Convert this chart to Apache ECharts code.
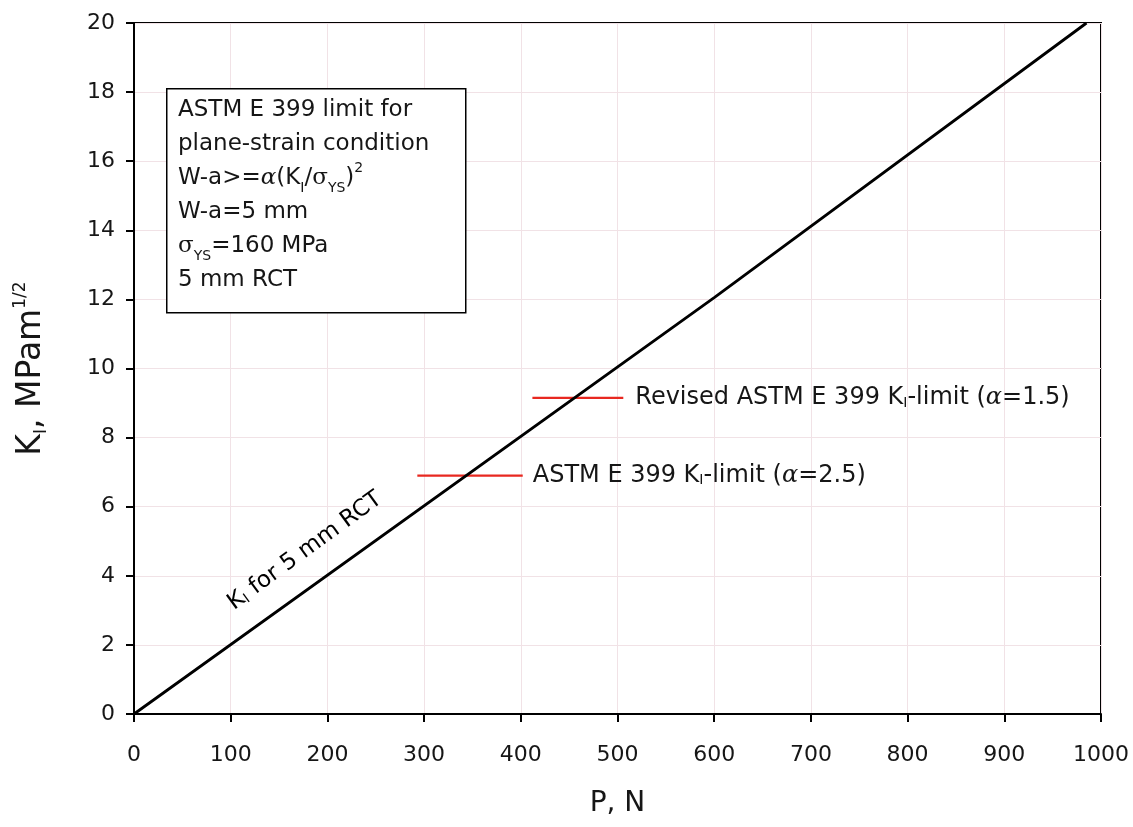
<!DOCTYPE html>
<html>
<head>
<meta charset="utf-8">
<script src="https://cdn.jsdelivr.net/npm/echarts@6/dist/echarts.min.js"></script>
<style>
  html, body { margin: 0; padding: 0; background: #fff; }
  #chart { width: 1133px; height: 827px; }
</style>
</head>
<body>
<div id="chart"></div>
<script>
// K_I versus load P for the 5 mm RCT specimen
const loadN = [0, 600, 985];
const kI = [0, 12.05, 20];

// ASTM E 399 plane-strain K_I limits (horizontal segments)
const limitAlpha25 = { p: [293, 402], k: 6.9 };
const limitAlpha15 = { p: [412, 506], k: 9.15 };

const xTicks = [0, 100, 200, 300, 400, 500, 600, 700, 800, 900, 1000];
const yTicks = [0, 2, 4, 6, 8, 10, 12, 14, 16, 18, 20];

const FONT = '"DejaVu Sans", "Liberation Sans", Arial, sans-serif';
const GREEK = '"DejaVu Serif", serif';
const TXT = '#161616';

const chart = echarts.init(document.getElementById('chart'), null, { renderer: 'canvas' });

const subStyle = { fontSize: 14, lineHeight: 14, verticalAlign: 'bottom', fontFamily: FONT, color: TXT };
const subGray = { fontSize: 14, lineHeight: 14, verticalAlign: 'bottom', fontFamily: FONT, color: '#777' };
const supStyle = { fontSize: 14, lineHeight: 14, verticalAlign: 'top', fontFamily: FONT, color: TXT };
const alphaStyle = { fontSize: 24, fontStyle: 'italic', fontFamily: GREEK, color: TXT };

function seg(lim) {
  return lim.p.map(p => [p, lim.k]);
}

const option = {
  backgroundColor: '#fff',
  animation: false,
  grid: {
    left: 134, right: 32, top: 23, bottom: 113,
    show: true, borderColor: '#000', borderWidth: 2
  },
  xAxis: {
    type: 'value', min: 0, max: 1000, interval: 100,
    name: 'P, N', nameLocation: 'middle', nameGap: 76,
    nameTextStyle: { fontSize: 28, fontFamily: FONT, color: TXT },
    axisLine: { show: true, lineStyle: { color: '#000', width: 2 } },
    axisTick: { show: true, inside: false, length: 8, lineStyle: { color: '#000', width: 2 } },
    axisLabel: { margin: 30, fontSize: 22, fontFamily: FONT, color: TXT,
      formatter: v => xTicks.includes(v) ? String(v) : '' },
    splitLine: { show: true, lineStyle: { color: '#f1e2e6', width: 1 } }
  },
  yAxis: {
    type: 'value', min: 0, max: 20, interval: 2,
    name: '{b|K}{s|I}{b|, MPam}{p|1/2}', nameLocation: 'middle', nameGap: 84, nameRotate: 90,
    nameTextStyle: {
      fontSize: 33, fontFamily: FONT, color: TXT, lineHeight: 38,
      rich: {
        b: { fontSize: 33, lineHeight: 38, fontFamily: FONT, color: TXT },
        s: { fontSize: 17, lineHeight: 17, verticalAlign: 'bottom', fontFamily: FONT, color: TXT },
        p: { fontSize: 17, lineHeight: 17, verticalAlign: 'top', fontFamily: FONT, color: TXT }
      }
    },
    axisLine: { show: true, lineStyle: { color: '#000', width: 2 } },
    axisTick: { show: true, inside: false, length: 8, lineStyle: { color: '#000', width: 2 } },
    axisLabel: { margin: 19, fontSize: 22, fontFamily: FONT, color: TXT,
      formatter: v => yTicks.includes(v) ? String(v) : '' },
    splitLine: { show: true, lineStyle: { color: '#f1e2e6', width: 1 } }
  },
  series: [
    {
      name: 'KI 5 mm RCT', type: 'line', symbol: 'none',
      data: loadN.map((p, i) => [p, kI[i]]),
      lineStyle: { color: '#000', width: 2.8 },
      z: 5
    },
    {
      name: 'alpha 2.5', type: 'line', symbol: 'none',
      data: seg(limitAlpha25),
      lineStyle: { color: '#e82820', width: 2.4 },
      endLabel: {
        show: true, distance: 10,
        formatter: () => '{t|ASTM E 399 K}{s|I}{t|-limit (}{a|α}{t|=2.5)}',
        rich: {
          t: { fontSize: 24, fontFamily: FONT, color: TXT },
          s: subStyle,
          a: alphaStyle
        }
      },
      z: 4
    },
    {
      name: 'alpha 1.5', type: 'line', symbol: 'none',
      data: seg(limitAlpha15),
      lineStyle: { color: '#e82820', width: 2.4 },
      endLabel: {
        show: true, distance: 12,
        formatter: () => '{t|Revised ASTM E 399 K}{s|I}{t|-limit (}{a|α}{t|=1.5)}',
        rich: {
          t: { fontSize: 24, fontFamily: FONT, color: TXT },
          s: subStyle,
          a: alphaStyle
        }
      },
      z: 4
    }
  ],
  graphic: [
    {
      type: 'rect', left: 166, top: 88, z: 10,
      shape: { width: 299, height: 224 },
      style: { fill: '#fff', stroke: '#000', lineWidth: 1.5 }
    },
    {
      type: 'text', left: 178, top: 93, z: 11,
      style: {
        text: [
          '{t|ASTM E 399 limit for}',
          '{t|plane-strain condition}',
          '{t|W-a>=}{a|α}{t|(K}{s|I}{t|/}{g|σ}{sg|YS}{t|)}{p|2}',
          '{t|W-a=5 mm}',
          '{g|σ}{sg|YS}{t|=160 MPa}',
          '{t|5 mm RCT}'
        ].join('\n'),
        fill: TXT,
        fontSize: 23, fontFamily: FONT, lineHeight: 34,
        rich: {
          t: { fontSize: 23, lineHeight: 34, fontFamily: FONT, color: TXT },
          a: { fontSize: 23, lineHeight: 34, fontStyle: 'italic', fontFamily: GREEK, color: TXT },
          g: { fontSize: 23, lineHeight: 34, fontFamily: GREEK, color: '#555' },
          s: subStyle,
          sg: subGray,
          p: supStyle
        }
      }
    },
    {
      type: 'text', z: 11,
      x: 305, y: 551, rotation: 0.63,
      style: {
        text: '{t|K}{s|I}{t| for 5 mm RCT}',
        align: 'center', verticalAlign: 'middle',
        rich: {
          t: { fontSize: 23, fontFamily: FONT, color: TXT },
          s: subStyle
        }
      }
    }
  ]
};

chart.setOption(option);
</script>
</body>
</html>
